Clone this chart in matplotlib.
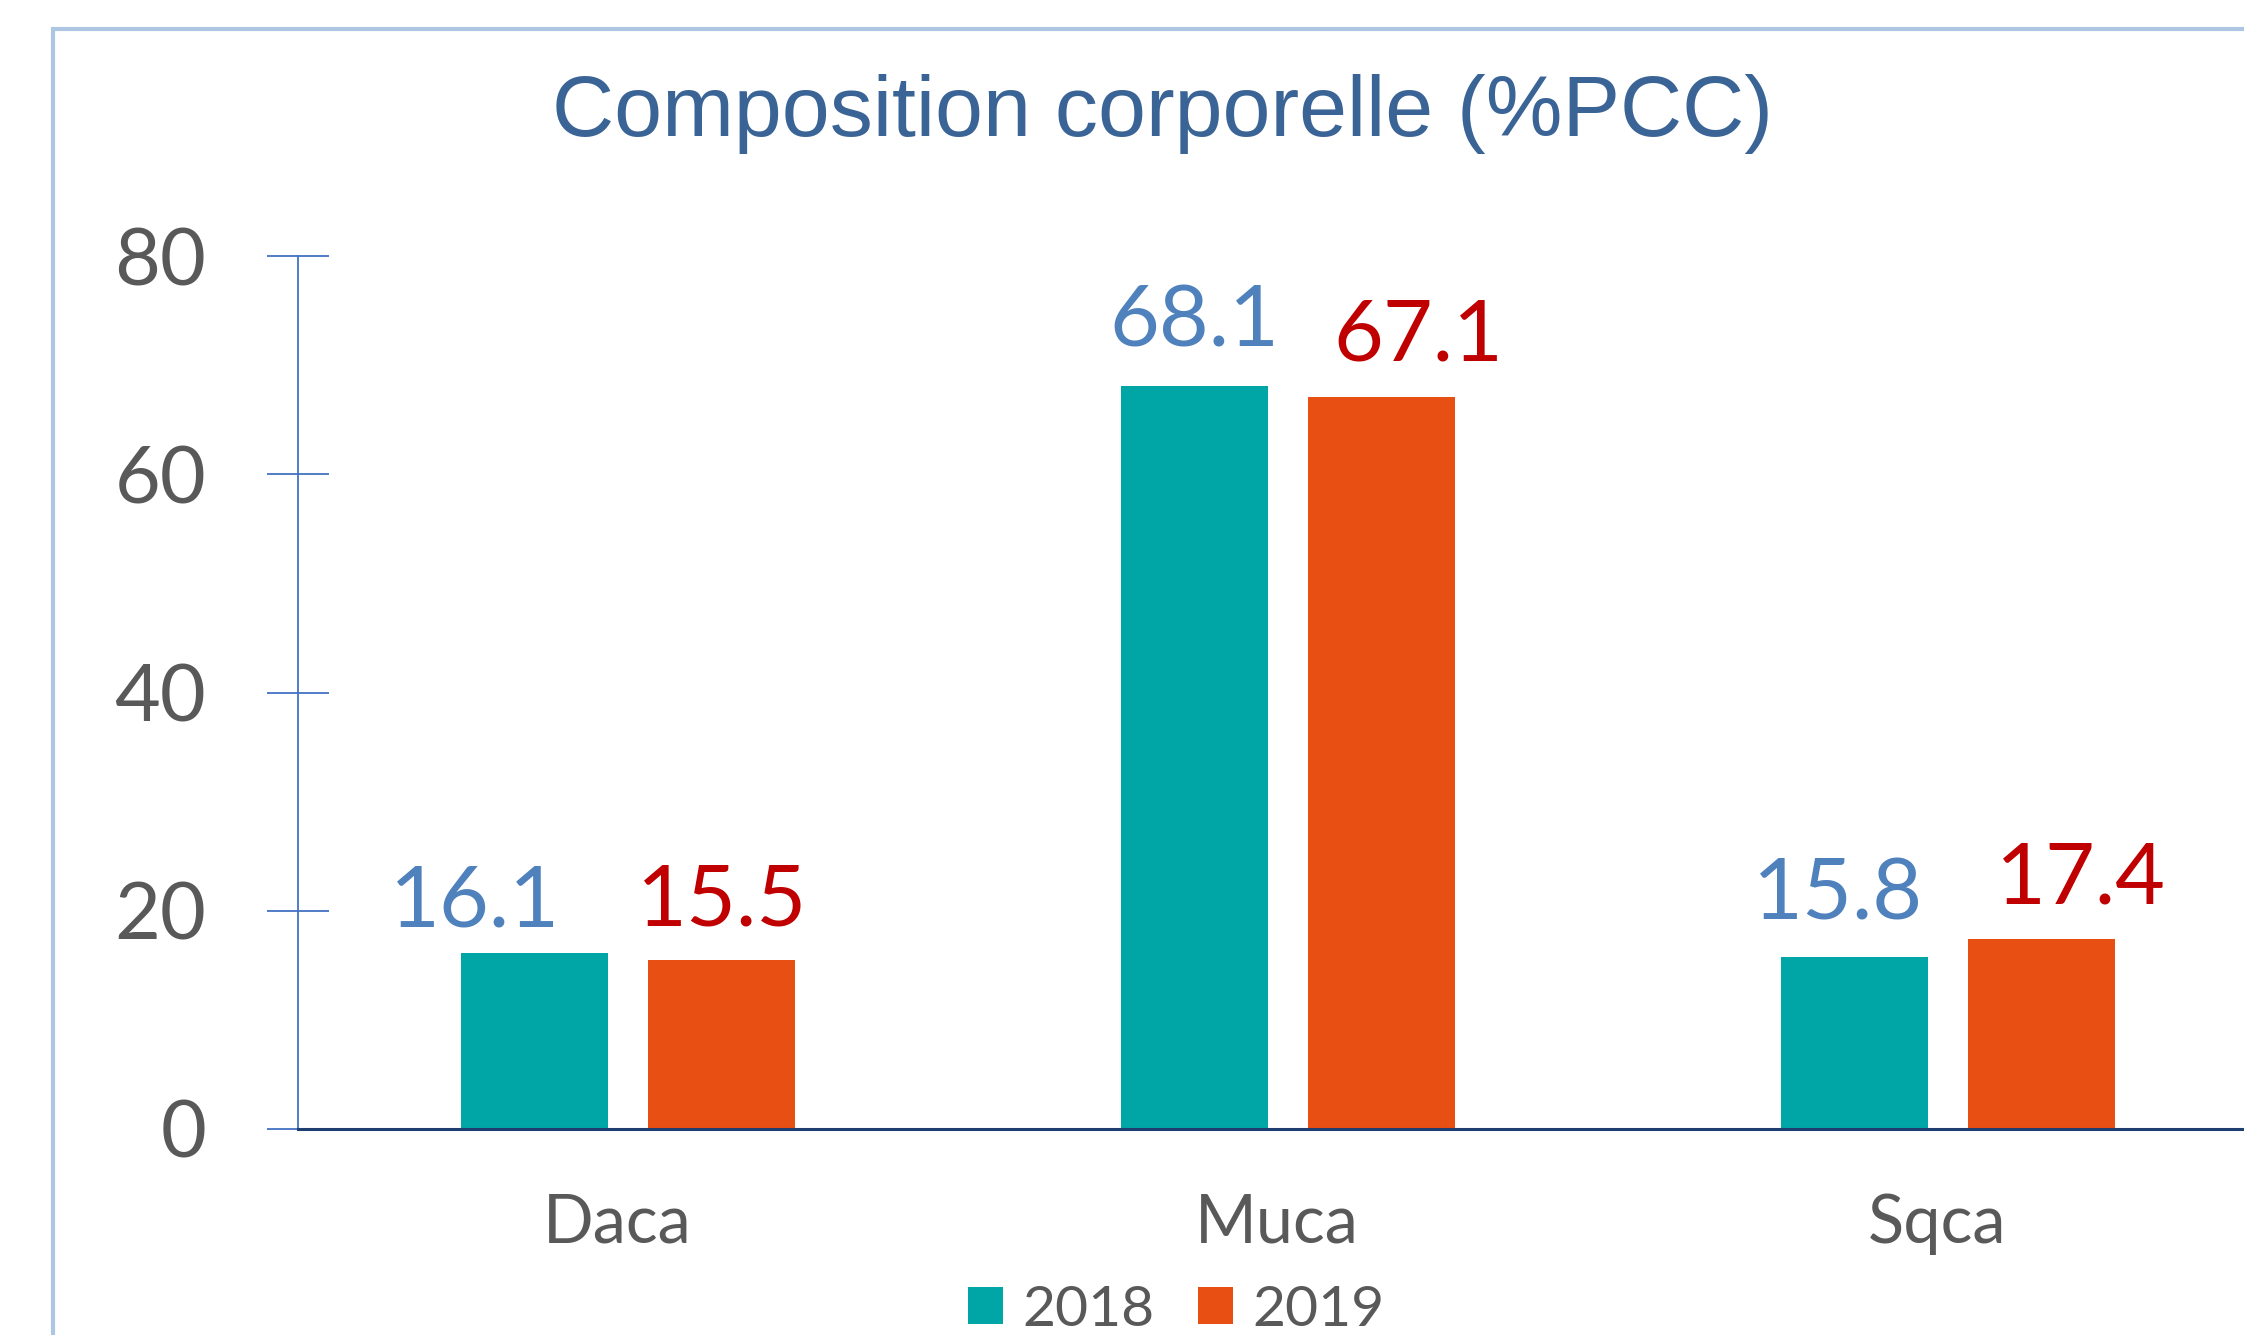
import numpy as np
import matplotlib
matplotlib.use("Agg")
import matplotlib.pyplot as plt
from matplotlib.patches import Rectangle
from matplotlib.transforms import ScaledTranslation

plt.rcParams['font.family'] = ['Lato', 'DejaVu Sans']

categories = ["Daca", "Muca", "Sqca"]
series_names = ["2018", "2019"]
values_2018 = [16.1, 68.1, 15.8]
values_2019 = [15.5, 67.1, 17.4]
yticks = [0, 20, 40, 60, 80]
title = "Composition corporelle (%PCC)"

# styling / label nudges (points)
colors = ["#00A6A6", "#E84F12"]
label_colors = ["#4F81BD", "#C00000"]
dx_2018 = [-42.5, 0, -12]
dx_2019 = [0, 26.6, 28]
dy_2018 = [19.4, 28, 26.6]
dy_2019 = [24.5, 26, 26]

W, H = 2244, 1335
fig = plt.figure(figsize=(W / 100, H / 100), dpi=100)

# outer frame (partially cropped)
fig.patches.append(Rectangle((53 / W, -0.5), 2.0, 0.5 + (1 - 29 / H), transform=fig.transFigure,
                             fill=False, edgecolor="#ADC6E3", linewidth=3, clip_on=False))

ax = fig.add_axes([298 / W, 206 / H, 1980 / W, 873 / H])
x = np.arange(len(categories))
bw = 0.223
off = 0.142
b1 = ax.bar(x - off, values_2018, bw, color=colors[0], label=series_names[0], zorder=2)
b2 = ax.bar(x + off, values_2019, bw, color=colors[1], label=series_names[1], zorder=2)

ax.set_xlim(-0.5, len(categories) - 0.5)
ax.set_ylim(0, 80)
ax.set_yticks(yticks)
ax.set_yticklabels([str(t) for t in yticks])
ax.set_xticks(x)
ax.set_xticklabels(categories)

for s in ["top", "right"]:
    ax.spines[s].set_visible(False)
ax.spines["left"].set_color("#4472C4")
ax.spines["left"].set_linewidth(1.3)
ax.spines["bottom"].set_color("#1F3F73")
ax.spines["bottom"].set_linewidth(2.2)
ax.spines["bottom"].set_zorder(3)

ax.tick_params(axis="y", direction="inout", length=44, width=1.3, color="#4472C4",
               pad=44, labelsize=57, labelcolor="#595959")
ax.tick_params(axis="x", length=0, pad=46, labelsize=48, labelcolor="#595959")
shift = ScaledTranslation(-8 / 72, 0, fig.dpi_scale_trans)
for lbl in ax.get_xticklabels():
    lbl.set_transform(lbl.get_transform() + shift)

for i, v in enumerate(values_2018):
    ax.annotate(f"{v:.1f}", xy=(x[i] - off, v), xytext=(dx_2018[i], dy_2018[i]),
                textcoords="offset points", ha="center", va="baseline",
                fontsize=62, color=label_colors[0])
for i, v in enumerate(values_2019):
    ax.annotate(f"{v:.1f}", xy=(x[i] + off, v), xytext=(dx_2019[i], dy_2019[i]),
                textcoords="offset points", ha="center", va="baseline",
                fontsize=62, color=label_colors[1])

fig.text(1163 / W, 1 - 136 / H, title, ha="center", va="baseline", fontsize=62,
         color="#3B6496", family=["Liberation Sans", "DejaVu Sans"])

fig.legend(handles=[b1, b2], labels=series_names, loc="center",
           bbox_to_anchor=(1176 / W, 25 / H), ncol=2, frameon=False, fontsize=41,
           handlelength=0.62, handleheight=0.62, handletextpad=0.34, columnspacing=0.76,
           labelcolor="#595959", borderaxespad=0, borderpad=0)

fig.savefig("out.png", dpi=100)
